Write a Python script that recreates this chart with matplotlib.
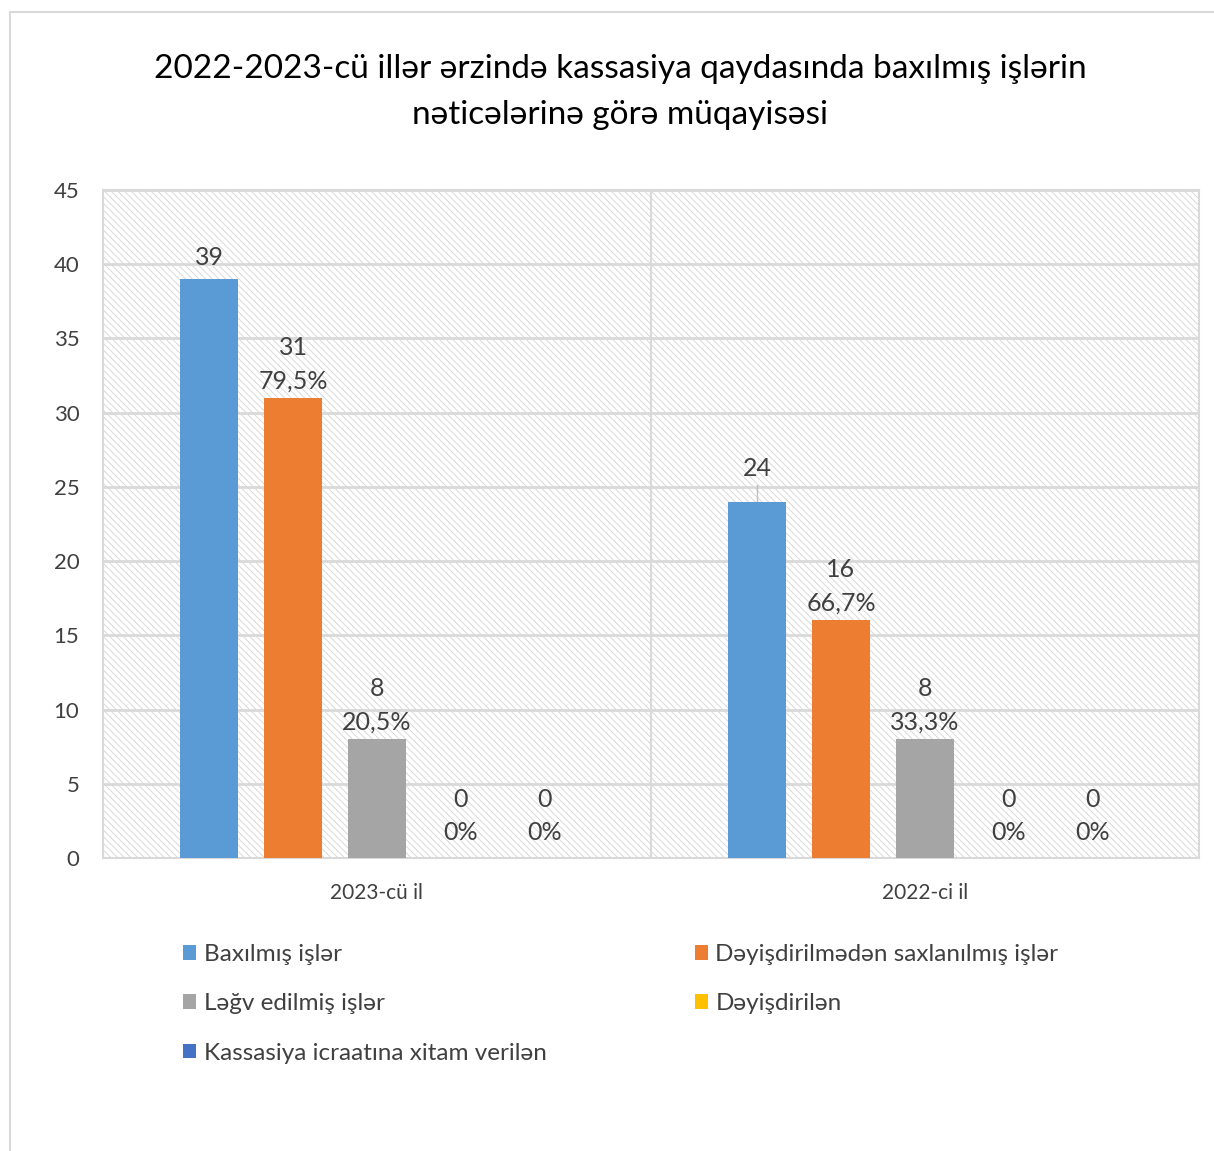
import matplotlib.pyplot as plt
import matplotlib as mpl
import numpy as np

# data
categories = ["2023-cü il", "2022-ci il"]
series = ["Baxılmış işlər", "Dəyişdirilmədən saxlanılmış işlər", "Ləğv edilmiş işlər",
          "Dəyişdirilən", "Kassasiya icraatına xitam verilən"]
values = [
    [39, 24],
    [31, 16],
    [8, 8],
    [0, 0],
    [0, 0],
]
percents = [
    None,
    ["79,5%", "66,7%"],
    ["20,5%", "33,3%"],
    ["0%", "0%"],
    ["0%", "0%"],
]
colors = ["#5B9BD5", "#ED7D31", "#A5A5A5", "#FFC000", "#4472C4"]
title = "2022-2023-cü illər ərzində kassasiya qaydasında baxılmış işlərin\nnəticələrinə görə müqayisəsi"

plt.rcParams['font.family'] = ['Lato', 'DejaVu Sans']
plt.rcParams['hatch.color'] = '#d4d4d4'
plt.rcParams['hatch.linewidth'] = 0.6
txt = '#404040'

fig = plt.figure(figsize=(12.14, 11.51), dpi=100)
# outer border
fig.patches.append(mpl.patches.Rectangle((10/1214, -0.01), 1.0, 1 - 12/1151 + 0.01,
                                         transform=fig.transFigure, fill=False,
                                         edgecolor='#d9d9d9', linewidth=1.5))
ax = fig.add_axes([103/1214, 1 - 858/1151, (1199-103)/1214, (858-190)/1151])

# hatched background
ax.add_patch(mpl.patches.Rectangle((0, 0), 1, 1, transform=ax.transAxes, facecolor='white',
                                   edgecolor='#d4d4d4', linewidth=0, hatch='\\\\\\\\\\',
                                   zorder=0))

x = np.arange(len(categories))
width = 58/548
step = 84/548
for i, (name, vals, col) in enumerate(zip(series, values, colors)):
    pos = x + (i - 2) * step
    ax.bar(pos, vals, width, color=col, label=name, zorder=3)
    for j, v in enumerate(vals):
        if percents[i] is None:
            lab = str(v)
            off = 16 if v == 24 else 7
        else:
            lab = f"{v}\n{percents[i][j]}"
            off = 4 if v > 0 else 10
        ax.annotate(lab, (pos[j], v), xytext=(0, off), textcoords='offset points',
                    ha='center', va='bottom', fontsize=18, color=txt,
                    linespacing=1.55, zorder=4)

# leader line for 24
ax.plot([x[1] - 2*step]*2, [24, 25.1], color='#bfbfbf', lw=1, zorder=2)

ax.set_xlim(-0.5, 1.5)
ax.set_ylim(0, 45)
ax.set_yticks(range(0, 46, 5))
ax.set_xticks(x)
ax.set_xticklabels(categories, fontsize=15, color=txt)
ax.tick_params(axis='y', labelsize=16, colors=txt, length=0, pad=17)
ax.tick_params(axis='x', length=0, pad=18)
ax.grid(axis='y', color='#d9d9d9', lw=2, zorder=1)
ax.axvline(0.5, color='#d9d9d9', lw=1.5, zorder=1)
for s in ax.spines.values():
    s.set_color('#d9d9d9')
    s.set_linewidth(1.5)

fig.text(620/1214, 1 - 92/1151, title, ha='center', va='center', fontsize=24, color='black',
         linespacing=1.65)

h, l = ax.get_legend_handles_labels()
order = [0, 2, 4, 1, 3]
fig.legend([h[k] for k in order], [l[k] for k in order], ncol=2, loc='upper left',
           bbox_to_anchor=(161/1214, 1 - 922/1151), frameon=False, fontsize=17.5,
           labelcolor=txt, handlelength=0.55, handleheight=0.55, handletextpad=0.3,
           columnspacing=6.1, labelspacing=1.17)

plt.savefig('out.png', dpi=100)
